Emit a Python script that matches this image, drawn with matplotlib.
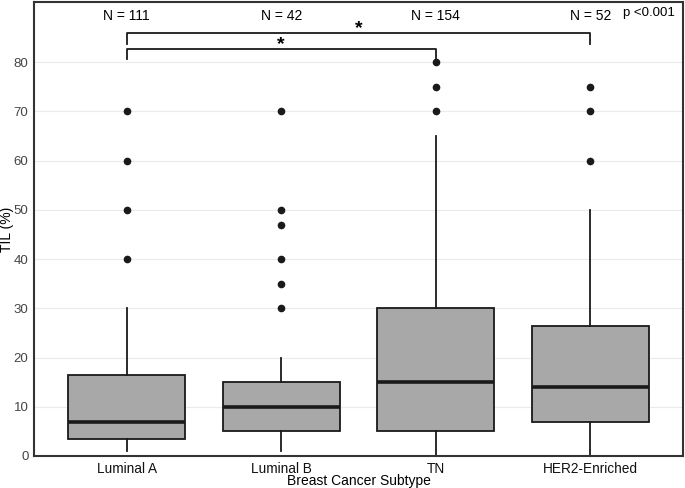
import matplotlib
matplotlib.use("Agg")
import matplotlib.pyplot as plt

plt.rcParams['font.family'] = ['Liberation Sans', 'DejaVu Sans']

categories = ["Luminal A", "Luminal B", "TN", "HER2-Enriched"]
n_labels = ["N = 111", "N = 42", "N = 154", "N = 52"]
q1 = [3.4, 5.1, 5.0, 7.0]
medians = [7.0, 10.0, 15.0, 14.0]
q3 = [16.5, 15.0, 30.0, 26.3]
whislo = [1.0, 1.0, 0.0, 0.0]
whishi = [30.0, 20.0, 65.0, 50.0]
fliers = [[40, 50, 60, 70],
          [30, 35, 40, 47, 50, 70],
          [70, 75, 80],
          [60, 70, 75]]
yticks = [0, 10, 20, 30, 40, 50, 60, 70, 80]

fig = plt.figure(figsize=(6.85, 4.88), dpi=100)
ax = fig.add_axes([34/685, (488-456)/488, (683-34)/685, (456-2)/488])

stats = []
for i in range(len(categories)):
    stats.append(dict(label=categories[i], q1=q1[i], med=medians[i], q3=q3[i],
                      whislo=whislo[i], whishi=whishi[i], fliers=fliers[i]))

positions = list(range(1, len(categories) + 1))
ax.bxp(stats, positions=positions, widths=0.755, patch_artist=True, showcaps=False,
       boxprops=dict(facecolor='#a8a8a8', edgecolor='#1a1a1a', linewidth=1.3),
       medianprops=dict(color='#1a1a1a', linewidth=2.6),
       whiskerprops=dict(color='#1a1a1a', linewidth=1.3),
       flierprops=dict(marker='o', markerfacecolor='#1a1a1a', markeredgecolor='#1a1a1a',
                       markersize=4.5))

ax.set_xlim(0.4, 4.6)
ax.set_ylim(0, 92.2)
ax.set_yticks(yticks)
ax.set_yticklabels([str(t) for t in yticks], color='#444444', fontsize=9.5)
ax.set_xticks(positions)
ax.set_xticklabels(categories, color='#111111', fontsize=9.8)
ax.tick_params(axis='x', length=0, pad=4)
ax.tick_params(axis='y', length=0, pad=4)
ax.yaxis.grid(True, color='#ebebeb', linewidth=0.8)
ax.set_axisbelow(True)
for s in ax.spines.values():
    s.set_color('#333333')
    s.set_linewidth(1.5)

ax.set_xlabel("Breast Cancer Subtype", fontsize=10)
ax.xaxis.label.set_va('center')
ax.xaxis.set_label_coords(0.5, -(481 - 456) / 454)
ax.set_ylabel("TIL (%)", fontsize=10)
ax.yaxis.label.set_va('center')
ax.yaxis.set_label_coords(-(34 - 7) / 649, 0.5)

for p, t in zip(positions, n_labels):
    ax.text(p, 89.3, t, ha='center', va='center', fontsize=10)
ax.text(4.38, 89.9, "p <0.001", ha='center', va='center', fontsize=9.5)

# significance brackets
def bracket(x1, x2, y, h, label, ty):
    ax.plot([x1, x1, x2, x2], [y - h, y, y, y - h], color='#1a1a1a', linewidth=1.3)
    ax.text((x1 + x2) / 2, ty, label, ha='center', va='bottom', fontsize=14,
            fontweight='bold')

bracket(1, 4, 85.9, 2.2, "*", 85.0)
bracket(1, 3, 82.6, 2.0, "*", 81.8)

fig.savefig("out.png", dpi=100)
